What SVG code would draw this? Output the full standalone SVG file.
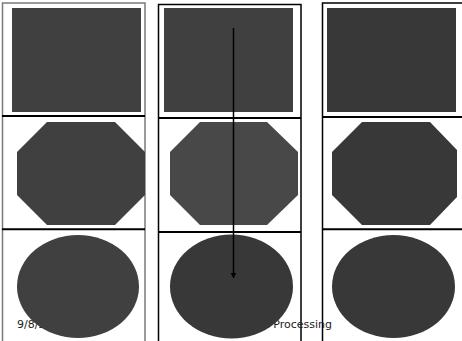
<svg xmlns="http://www.w3.org/2000/svg" width="462" height="341" viewBox="0 0 462 341">
<defs>
<style>
.bg{fill:#ffffff}
.frameG{stroke:#7a7a7a;stroke-width:1.5;fill:none}
.frameB{stroke:#000000;stroke-width:1.5;fill:none}
.sep{stroke:#000000;stroke-width:2;fill:none}
.s1{fill:#404040}
.s2{fill:#484848}
.s3{fill:#383838}
.foot{font-family:"Comic Sans MS","DejaVu Sans","Liberation Sans",sans-serif;font-size:11px;fill:#222222}
.conn{stroke:#000000;stroke-width:1.5;fill:none}
</style>
<marker id="arr" markerWidth="6" markerHeight="6" refX="5" refY="3" orient="auto" markerUnits="userSpaceOnUse">
<path d="M0,0 L6,3 L0,6 Z" fill="#000000"/>
</marker>
</defs>
<rect class="bg" x="0" y="0" width="462" height="341"/>
<g id="frames">
<path class="frameG" d="M2.5,341 V3 H145 V341"/>
<path class="sep" d="M2,116 H145 M2,229.3 H145"/>
<path class="frameB" d="M158.5,341 V4.5 H301 V341"/>
<path class="sep" d="M158,118 H301 M158,232 H301"/>
<path class="frameB" d="M322.5,341 V3 H462"/>
<path class="sep" d="M322,117 H462 M322,229.3 H462"/>
</g>
<g id="footer">
<text class="foot" x="17" y="328">9/8/2015</text>
<text class="foot" x="332" y="328" text-anchor="end">Image Processing</text>
</g>
<g id="rect1"><rect class="s1" x="12" y="8" width="129" height="104"/></g>
<g id="rect2"><rect class="s1" x="164" y="8" width="129" height="104"/></g>
<g id="rect3"><rect class="s3" x="327" y="8" width="129" height="104"/></g>
<g id="oct1"><polygon class="s1" points="47,122 115,122 145,152 145,195 115,225 47,225 17,195 17,152"/></g>
<g id="oct2"><polygon class="s2" points="200,122 267,122 298,152 298,195 267,225 200,225 170,195 170,152"/></g>
<g id="oct3"><polygon class="s3" points="362,122 430,122 457,150 457,197 430,225 362,225 332,195 332,152"/></g>
<g id="ell1"><ellipse class="s1" cx="78" cy="286.5" rx="61" ry="51.5"/></g>
<g id="ell2"><ellipse class="s3" cx="231.5" cy="286.5" rx="61.5" ry="52"/></g>
<g id="ell3"><ellipse class="s3" cx="393.5" cy="286.5" rx="61.5" ry="51.5"/></g>
<g id="connectors">
<line class="conn" x1="233.5" y1="28" x2="233.5" y2="277.5" marker-end="url(#arr)"/>
</g>
</svg>
